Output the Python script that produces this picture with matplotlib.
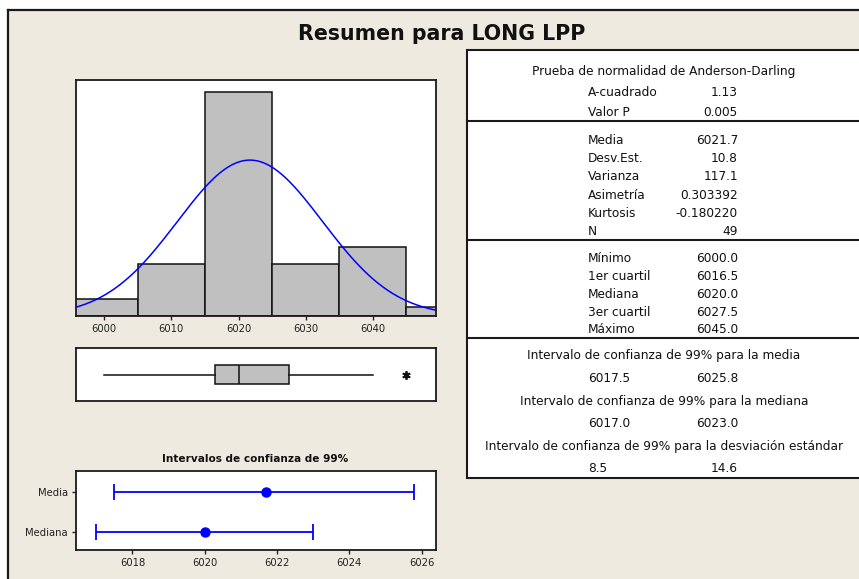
import numpy as np
import matplotlib
matplotlib.use("Agg")
import matplotlib.pyplot as plt
from matplotlib.patches import Rectangle
from matplotlib.lines import Line2D

# ---------------- data ----------------
bin_centers = [6000, 6010, 6020, 6030, 6040, 6050]
bin_counts = [2, 6, 26, 6, 8, 1]
bin_width = 10
n_obs = 49
mean_val = 6021.7
sd_val = 10.8

box_min = 6000.0
box_q1 = 6016.5
box_med = 6020.0
box_q3 = 6027.5
box_whishi = 6040.0
box_fliers = [6045.0]

ci_labels = ["Mediana", "Media"]
ci_centers = [6020.0, 6021.7]
ci_low = [6017.0, 6017.5]
ci_high = [6023.0, 6025.8]

hist_ticks = [6000, 6010, 6020, 6030, 6040]
ci_ticks = [6018, 6020, 6022, 6024, 6026]

title = "Resumen para LONG LPP"
ci_title = "Intervalos de confianza de 99%"

ad_header = "Prueba de normalidad de Anderson-Darling"
ad_labels = ["A-cuadrado", "Valor P"]
ad_values = ["1.13", "0.005"]
mom_labels = ["Media", "Desv.Est.", "Varianza", "Asimetría", "Kurtosis", "N"]
mom_values = ["6021.7", "10.8", "117.1", "0.303392", "-0.180220", "49"]
q_labels = ["Mínimo", "1er cuartil", "Mediana", "3er cuartil", "Máximo"]
q_values = ["6000.0", "6016.5", "6020.0", "6027.5", "6045.0"]
ci_headers = ["Intervalo de confianza de 99% para la media",
              "Intervalo de confianza de 99% para la mediana",
              "Intervalo de confianza de 99% para la desviación estándar"]
ci_table_low = ["6017.5", "6017.0", "8.5"]
ci_table_high = ["6025.8", "6023.0", "14.6"]

# ---------------- layout ----------------
W, H = 859, 579
plt.rcParams['font.family'] = ['DejaVu Sans']
fig = plt.figure(figsize=(W / 100, H / 100), dpi=100)
fig.patch.set_facecolor("white")

BG = "#EEEAE0"
EDGE = "#1a1a1a"

def fx(x):
    return x / W

def fy(y):
    return 1 - y / H

# panel background
fig.add_artist(Rectangle((fx(8), fy(600)), fx(900), (600 - 10) / H,
                         transform=fig.transFigure, facecolor=BG,
                         edgecolor="none", zorder=0))
fig.add_artist(Line2D([fx(8), fx(870)], [fy(10), fy(10)], color=EDGE, lw=1.6))
fig.add_artist(Line2D([fx(8), fx(8)], [fy(10), fy(600)], color=EDGE, lw=1.6))

def ax_px(x0, y0, x1, y1):
    a = fig.add_axes([x0 / W, 1 - y1 / H, (x1 - x0) / W, (y1 - y0) / H])
    a.set_facecolor("white")
    for s in a.spines.values():
        s.set_linewidth(1.3)
        s.set_color(EDGE)
    return a

fig.text(fx(442), fy(34), title, ha="center", va="center",
         fontsize=14.8, fontweight="bold", color="#111111")

# ---------------- histogram ----------------
XL = (5995.8, 6049.4)
axh = ax_px(76, 80, 436, 316)
axh.bar(bin_centers, bin_counts, width=bin_width, color="#C0C0C0",
        edgecolor="#111111", linewidth=1.1, zorder=2)
xs = np.linspace(XL[0], XL[1], 300)
pdf = n_obs * bin_width / (sd_val * np.sqrt(2 * np.pi)) * np.exp(-0.5 * ((xs - mean_val) / sd_val) ** 2)
axh.plot(xs, pdf, color="#0000FF", lw=1.1, zorder=3)
axh.set_xlim(*XL)
axh.set_ylim(0, 27.4)
axh.set_yticks([])
axh.set_xticks(hist_ticks)
axh.tick_params(axis="x", length=3, width=1, labelsize=7.2, pad=3, colors="#222222")

# ---------------- boxplot ----------------
axb = ax_px(76, 348, 436, 401)
stats = [dict(med=box_med, q1=box_q1, q3=box_q3, whislo=box_min,
              whishi=box_whishi, fliers=box_fliers)]
axb.bxp(stats, positions=[0], vert=False, widths=0.36, showcaps=False,
        patch_artist=True,
        boxprops=dict(facecolor="#C0C0C0", edgecolor="#111111", linewidth=1.1),
        medianprops=dict(color="#111111", linewidth=1.1),
        whiskerprops=dict(color="#111111", linewidth=1.1),
        flierprops=dict(marker=(6, 2, 0), markersize=6, markerfacecolor="#111111",
                        markeredgecolor="#111111", markeredgewidth=1.3))
axb.set_xlim(*XL)
axb.set_ylim(-0.5, 0.5)
axb.set_xticks([])
axb.set_yticks([])

# ---------------- CI plot ----------------
axc = ax_px(76, 471, 436, 550)
ypos = list(range(1, len(ci_labels) + 1))
for y, c, lo, hi in zip(ypos, ci_centers, ci_low, ci_high):
    axc.errorbar([c], [y], xerr=[[c - lo], [hi - c]], fmt="o", color="#0000FF",
                 markersize=6.5, capsize=6, capthick=1.3, elinewidth=1.3)
axc.set_xlim(6016.44, 6026.4)
axc.set_ylim(0.56, 2.52)
axc.set_yticks(ypos)
axc.set_yticklabels(ci_labels)
axc.set_xticks(ci_ticks)
axc.tick_params(axis="both", length=3, width=1, labelsize=7.2, pad=3, colors="#222222")
fig.text(fx(255), fy(459), ci_title, ha="center", va="center",
         fontsize=7.6, fontweight="bold", color="#111111")

# ---------------- table ----------------
TL, TR, TT, TB = 467, 880, 50, 478
fig.add_artist(Rectangle((fx(TL), fy(TB)), (TR - TL) / W, (TB - TT) / H,
                         transform=fig.transFigure, facecolor="white",
                         edgecolor=EDGE, linewidth=1.5, zorder=1))
for ysep in [121, 240, 338]:
    fig.add_artist(Line2D([fx(TL), fx(TR)], [fy(ysep), fy(ysep)], color=EDGE, lw=1.5))

TFS = 8.75
XC = 664
XLAB = 588
XVAL = 738

def t(x, y, s, ha):
    fig.text(fx(x), fy(y), s, ha=ha, va="center", fontsize=TFS, color="#111111")

t(XC, 72, ad_header, "center")
for y, lab, val in zip([93, 113], ad_labels, ad_values):
    t(XLAB, y, lab, "left")
    t(XVAL, y, val, "right")
for y, lab, val in zip([140.5, 158.7, 176.9, 195.1, 213.3, 231.5], mom_labels, mom_values):
    t(XLAB, y, lab, "left")
    t(XVAL, y, val, "right")
for y, lab, val in zip([258, 276.5, 295, 312.5, 329.5], q_labels, q_values):
    t(XLAB, y, lab, "left")
    t(XVAL, y, val, "right")
for yh, yv, hdr, lo, hi in zip([356, 401.5, 446.5], [378.5, 423.5, 469],
                               ci_headers, ci_table_low, ci_table_high):
    t(XC, yh, hdr, "center")
    t(XLAB, yv, lo, "left")
    t(XVAL, yv, hi, "right")

fig.savefig("out.png", dpi=100, facecolor="white")
